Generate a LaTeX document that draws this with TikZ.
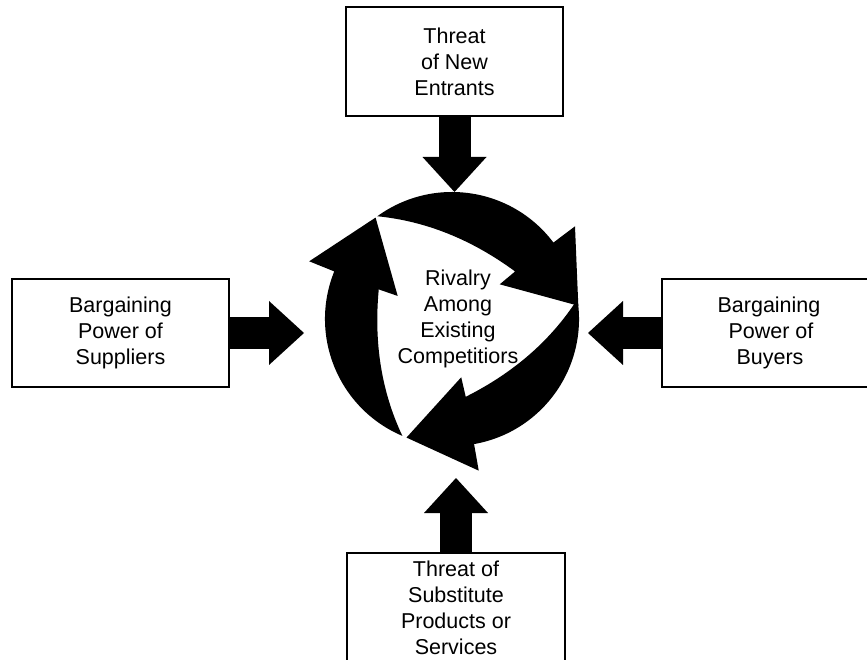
\documentclass[tikz,border=0pt]{standalone}
\usepackage{fontspec}
\setmainfont{Liberation Sans}
\usetikzlibrary{arrows.meta}

\tikzset{
  % one of the three curved arrows of the rivalry cycle, centred on the origin
  turnarrow/.pic={
    \fill[black] (126:127pt) arc[start angle=126, end angle=37, radius=127pt]
      -- (37:154pt) -- (6:127pt) -- (36:59pt) -- (37:79pt)
      .. controls (19,80) and (-27,98) .. cycle;
  }
}

\begin{document}
\begin{tikzpicture}[x=1pt, y=1pt,
  labeltext/.style={font=\fontsize{21.5}{26}\selectfont, align=center},
  forcebox/.style={draw, line width=1.5pt, inner sep=0pt, labeltext,
                   minimum height=109pt},
  push/.style={black, line width=32pt,
               -{Triangle[length=35pt, width=64pt, line width=0pt]}}]

\useasboundingbox (0,0) rectangle (867,659);
\clip (0,0) rectangle (867,659);

% the five forces
\node[forcebox, minimum width=217pt] (entrants)   at (454.5,597.5) {Threat\\of New\\Entrants};
\node[forcebox, minimum width=217pt, minimum height=108pt] (suppliers) at (120.5,326) {Bargaining\\Power of\\Suppliers};
\node[forcebox, minimum width=214pt, minimum height=108pt] (buyers)    at (769,326) {Bargaining\\\hspace{4pt}Power of\\\hspace{2pt}Buyers};
\node[forcebox, minimum width=218pt] (substitutes) at (456,51.5) {Threat of\\Substitute\\Products or\\Services};

% the rivalry cycle
\pic[rotate=0]   at (452,340) {turnarrow};
\pic[rotate=121] at (452,340) {turnarrow};
\pic[rotate=243] at (452,340) {turnarrow};
\node[labeltext, inner sep=0pt] (rivalry) at (458,340) {Rivalry\\Among\\Existing\\Competitiors};

% where the pressure arrows end
\coordinate (tipN) at (454.5,467);
\coordinate (tipW) at (304,326);
\coordinate (tipE) at (588,326);
\coordinate (tipS) at (456,181);

\draw[push] (entrants.south)    -- (tipN);
\draw[push] (suppliers.east)    -- (tipW);
\draw[push] (buyers.west)       -- (tipE);
\draw[push] (substitutes.north) -- (tipS);

\end{tikzpicture}
\end{document}
